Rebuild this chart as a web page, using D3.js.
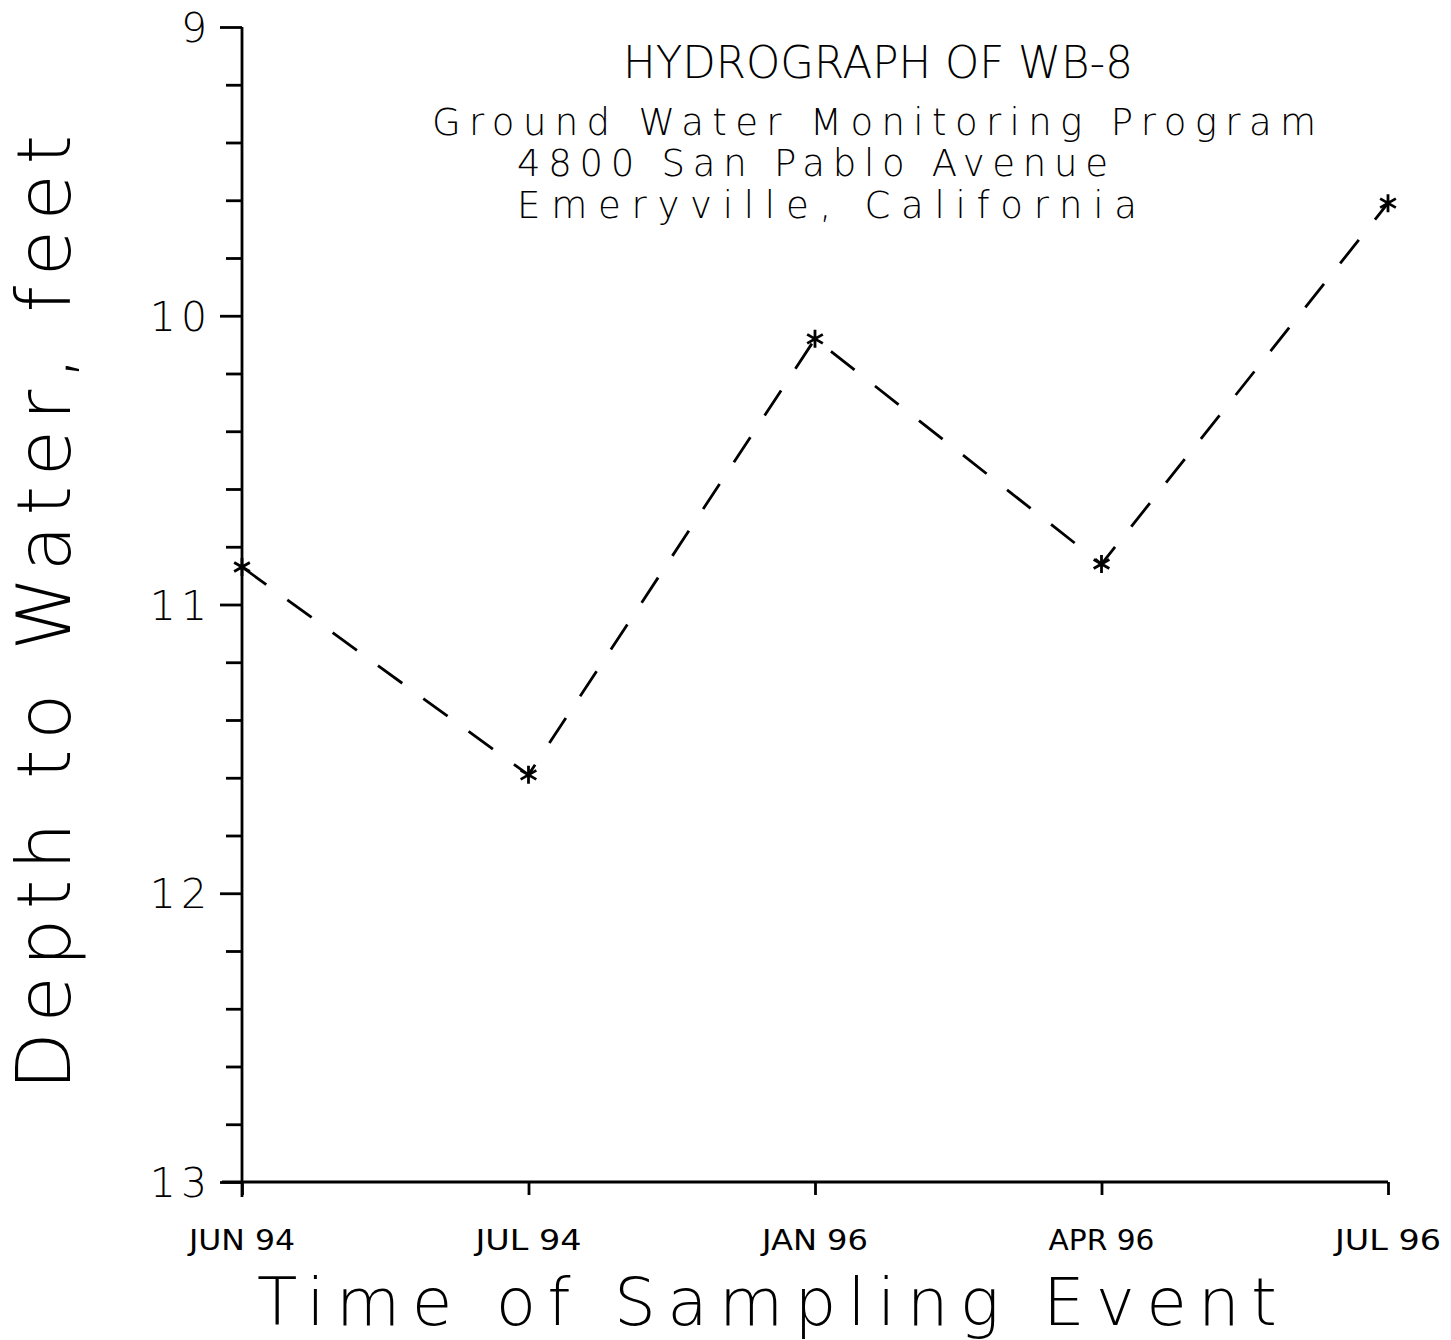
<!DOCTYPE html>
<html>
<head>
<meta charset="utf-8">
<script src="https://cdn.jsdelivr.net/npm/d3@7"></script>
<style>
  body { margin: 0; background: #fff; }
  text { font-family: "DejaVu Sans", sans-serif; fill: #000; }
</style>
</head>
<body>
<script>
// sampling events and depth to water (feet)
var events = ["JUN 94", "JUL 94", "JAN 96", "APR 96", "JUL 96"];
var depths = [10.87, 11.59, 10.08, 10.86, 9.61];
var yTicks = [9, 10, 11, 12, 13];
var titleLines = ["Ground Water Monitoring Program", "4800 San Pablo Avenue", "Emeryville, California"];

var W = 1451, H = 1340;
var svg = d3.select("body").append("svg")
  .attr("width", W)
  .attr("height", H);

var x = d3.scalePoint()
  .domain(events)
  .range([242, 1388]);

var y = d3.scaleLinear()
  .domain([9, 13])
  .range([27, 1182]);

var ink = "#000";
var sw = 2.8;

// y axis: major ticks with labels, minor ticks every 0.2
var yAxis = svg.append("g")
  .attr("transform", "translate(" + x(events[0]) + ",0)")
  .call(d3.axisLeft(y)
    .tickValues(d3.range(9, 13.001, 0.2))
    .tickSize(16)
    .tickFormat(""));
yAxis.select(".domain").remove();
yAxis.selectAll(".tick line")
  .attr("stroke", ink)
  .attr("stroke-width", sw)
  .attr("x2", function(d) { return Math.abs(d - Math.round(d)) < 1e-6 ? -22 : -16; });

svg.append("line")
  .attr("x1", x(events[0])).attr("x2", x(events[0]))
  .attr("y1", y(9)).attr("y2", y(13) + 15)
  .attr("stroke", ink).attr("stroke-width", sw);

svg.selectAll(".ylab")
  .data(yTicks)
  .enter()
  .append("text")
    .attr("class", "ylab")
    .attr("x", 212)
    .attr("y", function(d) { return y(d) + 15; })
    .attr("text-anchor", "end")
    .attr("font-size", 41)
    .attr("font-weight", 200)
    .attr("letter-spacing", 5)
    .text(function(d) { return d; });

// x axis
var xAxis = svg.append("g")
  .attr("transform", "translate(0," + y(13) + ")")
  .call(d3.axisBottom(x).tickSize(13).tickFormat(""));
xAxis.select(".domain").remove();
xAxis.selectAll(".tick line").attr("stroke", ink).attr("stroke-width", sw);

svg.append("line")
  .attr("x1", x(events[0]) - 20).attr("x2", x(events[events.length - 1]))
  .attr("y1", y(13)).attr("y2", y(13))
  .attr("stroke", ink).attr("stroke-width", sw);

svg.selectAll(".xlab")
  .data(events)
  .enter()
  .append("text")
    .attr("class", "xlab")
    .attr("x", function(d) { return x(d); })
    .attr("y", 1250)
    .attr("text-anchor", "middle")
    .attr("font-size", 28)
    .attr("textLength", 106)
    .attr("lengthAdjust", "spacingAndGlyphs")
    .text(function(d) { return d; });

// dashed hydrograph line
var line = d3.line()
  .x(function(d, i) { return x(events[i]); })
  .y(function(d) { return y(d); });

svg.append("path")
  .datum(depths)
  .attr("d", line)
  .attr("fill", "none")
  .attr("stroke", ink)
  .attr("stroke-width", sw)
  .attr("stroke-dasharray", "30,26");

// asterisk markers
var r = 9;
svg.selectAll(".star")
  .data(depths)
  .enter()
  .append("path")
    .attr("class", "star")
    .attr("transform", function(d, i) { return "translate(" + x(events[i]) + "," + y(d) + ")"; })
    .attr("d", "M0," + (-r) + "V" + r +
               "M" + (-r * 0.87) + "," + (-r * 0.5) + "L" + (r * 0.87) + "," + (r * 0.5) +
               "M" + (-r * 0.87) + "," + (r * 0.5) + "L" + (r * 0.87) + "," + (-r * 0.5))
    .attr("stroke", ink)
    .attr("stroke-width", sw)
    .attr("fill", "none");

// titles
svg.append("text")
  .attr("x", 623).attr("y", 78)
  .attr("font-size", 44)
  .attr("font-weight", 200)
  .attr("textLength", 510)
  .attr("lengthAdjust", "spacingAndGlyphs")
  .text("HYDROGRAPH OF WB-8");

var tl = [{x: 432, y: 135, w: 884}, {x: 517, y: 176, w: 591}, {x: 517, y: 218, w: 620}];
svg.selectAll(".sub")
  .data(titleLines)
  .enter()
  .append("text")
    .attr("class", "sub")
    .attr("x", function(d, i) { return tl[i].x; })
    .attr("y", function(d, i) { return tl[i].y; })
    .attr("font-size", 37)
    .attr("font-weight", 200)
    .attr("textLength", function(d, i) { return tl[i].w; })
    .attr("lengthAdjust", "spacing")
    .text(function(d) { return d; });

// axis titles
svg.append("text")
  .attr("x", 257).attr("y", 1325)
  .attr("font-size", 66)
  .attr("font-weight", 200)
  .attr("textLength", 1020)
  .attr("lengthAdjust", "spacing")
  .text("Time of Sampling Event");

svg.append("text")
  .attr("transform", "translate(70,1090) rotate(-90)")
  .attr("font-size", 75)
  .attr("font-weight", 200)
  .attr("textLength", 955)
  .attr("lengthAdjust", "spacing")
  .text("Depth to Water, feet");
</script>
</body>
</html>
